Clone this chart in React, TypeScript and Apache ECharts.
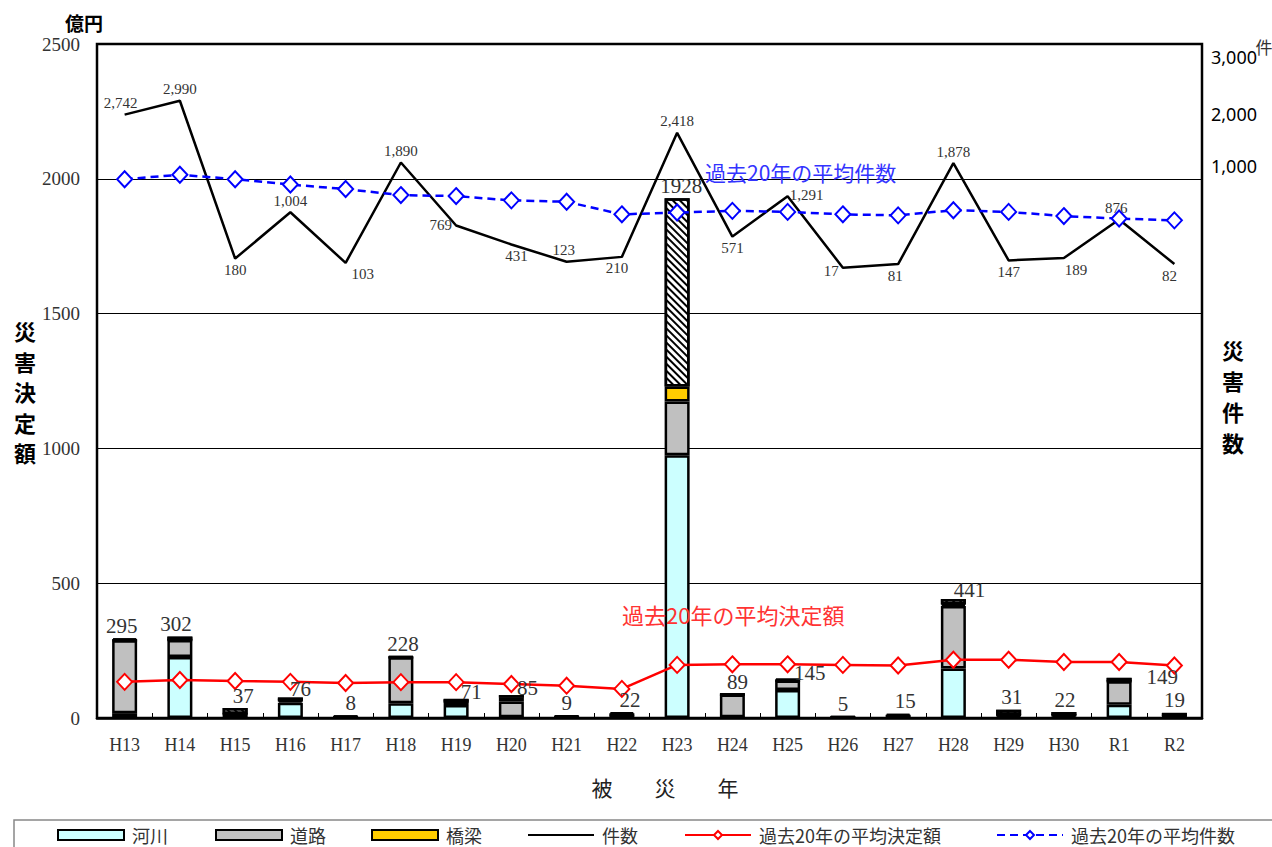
import React, { useEffect, useRef } from 'react';
import * as echarts from 'echarts';

// ---- data ----
const categories = ['H13', 'H14', 'H15', 'H16', 'H17', 'H18', 'H19', 'H20', 'H21', 'H22', 'H23', 'H24', 'H25', 'H26', 'H27', 'H28', 'H29', 'H30', 'R1', 'R2'];
const riverValues = [18, 226, 3, 57, 1, 55, 48, 3, 2, 10, 975, 3, 104, 1, 3, 184, 8, 2, 49, 2];
const roadValues = [270, 63, 12, 8, 2, 170, 13, 58, 2, 3, 199, 84, 35, 1, 4, 231, 3, 8, 87, 5];
const bridgeValues = [0, 0, 0, 0, 0, 0, 0, 14, 0, 0, 56, 0, 0, 0, 0, 6, 0, 0, 0, 0];
const otherValues = [7, 13, 22, 11, 5, 3, 10, 10, 5, 9, 698, 2, 6, 3, 8, 20, 20, 12, 13, 12];
const totalValues = [295, 302, 37, 76, 8, 228, 71, 85, 9, 22, 1928, 89, 145, 5, 15, 441, 31, 22, 149, 19];
const countValues = [2742, 2990, 180, 1004, 103, 1890, 769, 431, 123, 210, 2418, 571, 1291, 17, 81, 1878, 147, 189, 876, 82];
const avgAmountValues = [134, 141, 137, 134, 130, 133, 133, 126, 120, 108, 197, 199, 199, 197, 195, 216, 216, 208, 208, 195];
const avgCountValues = [1592, 1673, 1592, 1497, 1417, 1310, 1292, 1216, 1191, 967, 999, 1029, 1011, 967, 949, 1041, 1011, 936, 892, 860];
const leftTickMin = 0;
const leftTickMax = 2500;
const leftTickInterval = 500;
const rightTickLabels = ['3,000', '2,000', '1,000'];

// ---- styling / placement (not data) ----
const totalLabelOffsets: number[][] = [
  [-3, 0], [-4, 0], [8, 0], [10, 4], [5, 0], [2, 0], [15, 6], [16, 5], [0, 0], [8, 0],
  [4, 0], [5, 0], [22, 7], [0, 0], [7, 0], [16, 3], [3, 0], [1, 0], [43, 12], [0, 0],
];
const countLabelPos = ['top', 'top', 'bottom', 'top', 'bottom', 'top', 'left', 'bottom', 'top', 'bottom',
  'top', 'bottom', 'top', 'left', 'bottom', 'top', 'bottom', 'bottom', 'top', 'bottom'];
const countLabelOffsets: number[][] = [
  [-4, 0], [0, 0], [0, 0], [0, 0], [17, 0], [0, 0], [0, 0], [5, 0], [-3, 0], [-5, 0],
  [0, 0], [0, 0], [19, 10], [0, 3], [-3, 0], [0, 0], [0, 0], [12, 0], [-3, 0], [-5, 0],
];
const rightTickY = [57, 114, 166];

const SERIF = 'Liberation Serif';
const CJK = 'Noto Sans CJK JP';

export default function App() {
  const ref = useRef<HTMLDivElement>(null);

  useEffect(() => {
    document.body.style.margin = '0';
    const chart = echarts.init(ref.current as HTMLDivElement, null, { renderer: 'svg' });

    const barBase = {
      type: 'bar',
      stack: 'total',
      barWidth: 25,
      yAxisIndex: 0,
      xAxisIndex: 0,
      z: 2,
    };
    const border = { borderColor: '#000', borderWidth: 2.5 };

    const legendCommon = {
      top: 826,
      padding: 0,
      itemWidth: 66,
      itemHeight: 10,
      selectedMode: false,
      textStyle: { fontFamily: CJK, fontSize: 18, color: '#333', padding: [0, 0, 0, 3] },
    };

    const graphicText = (text: string, x: number, y: number, opts: any) => ({
      type: 'text',
      x,
      y,
      z: 100,
      silent: true,
      style: {
        text,
        fill: opts.fill || '#000',
        fontSize: opts.fontSize || 18,
        fontFamily: opts.fontFamily || CJK,
        fontWeight: opts.fontWeight || 'normal',
        lineHeight: opts.lineHeight,
        textAlign: opts.align || 'center',
        textVerticalAlign: 'middle',
        align: opts.align || 'center',
        verticalAlign: 'middle',
      },
    });

    const option: any = {
      animation: false,
      backgroundColor: '#fff',
      grid: {
        left: 97,
        right: 70,
        top: 44,
        bottom: 129,
        show: true,
        borderColor: '#000',
        borderWidth: 2.5,
        backgroundColor: 'transparent',
        containLabel: false,
      },
      xAxis: {
        type: 'category',
        data: categories,
        axisLine: { show: true, lineStyle: { color: '#000', width: 2.5 } },
        axisTick: { show: true, inside: true, length: 5, lineStyle: { color: '#000', width: 1 } },
        axisLabel: { fontFamily: SERIF, fontSize: 18, color: '#333', margin: 18 },
      },
      yAxis: [
        {
          type: 'value',
          min: leftTickMin,
          max: leftTickMax,
          interval: leftTickInterval,
          axisLine: { show: false },
          axisTick: { show: false },
          axisLabel: {
            fontFamily: SERIF,
            fontSize: 19,
            color: '#333',
            margin: 17,
            formatter: (v: number) => String(v),
          },
          splitLine: { show: true, lineStyle: { color: '#000', width: 1 } },
        },
        {
          type: 'value',
          min: -8000,
          max: 4000,
          interval: 1000,
          show: false,
          splitLine: { show: false },
        },
      ],
      legend: [
        { ...legendCommon, left: 57, data: [{ name: '河川', icon: 'rect' }] },
        { ...legendCommon, left: 215, data: [{ name: '道路', icon: 'rect' }] },
        { ...legendCommon, left: 371, data: [{ name: '橋梁', icon: 'rect' }] },
        { ...legendCommon, left: 527, data: [{ name: '件数', itemStyle: { opacity: 0 } }] },
        { ...legendCommon, left: 684, data: [{ name: '過去20年の平均決定額' }] },
        { ...legendCommon, left: 996, data: [{ name: '過去20年の平均件数' }] },
      ],
      series: [
        {
          ...barBase,
          name: '河川',
          data: riverValues,
          itemStyle: { color: '#CCFFFF', ...border },
        },
        {
          ...barBase,
          name: '道路',
          data: roadValues,
          itemStyle: { color: '#C0C0C0', ...border },
        },
        {
          ...barBase,
          name: '橋梁',
          data: bridgeValues,
          itemStyle: { color: '#FFCC00', ...border },
        },
        {
          ...barBase,
          name: 'その他',
          data: otherValues,
          itemStyle: {
            color: '#fff',
            ...border,
            decal: {
              symbol: 'rect',
              symbolSize: 1,
              color: '#000',
              backgroundColor: '#fff',
              dashArrayX: [1, 0],
              dashArrayY: [1.5, 2.5],
              rotation: Math.PI / 4,
            },
          },
        },
        {
          type: 'bar',
          name: '合計',
          yAxisIndex: 0,
          barWidth: 25,
          barGap: '-100%',
          z: 10,
          silent: true,
          data: totalValues.map((v, i) => ({
            value: v,
            label: { offset: totalLabelOffsets[i] },
          })),
          itemStyle: { color: 'rgba(0,0,0,0)', borderWidth: 0 },
          label: {
            show: true,
            position: 'top',
            distance: 2,
            fontFamily: SERIF,
            fontSize: 21,
            color: '#333',
          },
        },
        {
          type: 'line',
          name: '件数',
          yAxisIndex: 1,
          z: 5,
          data: countValues.map((v, i) => ({
            value: v,
            label: { position: countLabelPos[i], offset: countLabelOffsets[i] },
          })),
          symbol: 'circle',
          symbolSize: 0.1,
          showSymbol: true,
          lineStyle: { color: '#000', width: 2.5 },
          itemStyle: { color: '#000' },
          label: {
            show: true,
            distance: 4,
            fontFamily: SERIF,
            fontSize: 15,
            color: '#333',
            formatter: (p: any) => Number(p.value).toLocaleString('en-US'),
          },
        },
        {
          type: 'line',
          name: '過去20年の平均決定額',
          yAxisIndex: 0,
          z: 6,
          data: avgAmountValues,
          symbol: 'diamond',
          symbolSize: [15, 16],
          lineStyle: { color: '#FF0000', width: 2.5 },
          itemStyle: { color: '#fff', borderColor: '#FF0000', borderWidth: 2 },
        },
        {
          type: 'line',
          name: '過去20年の平均件数',
          yAxisIndex: 1,
          z: 6,
          data: avgCountValues,
          symbol: 'diamond',
          symbolSize: [15, 16],
          lineStyle: { color: '#0000FF', width: 2.5, type: [8, 5] },
          itemStyle: { color: '#fff', borderColor: '#0000FF', borderWidth: 2 },
        },
      ],
      graphic: [
        {
          type: 'rect',
          silent: true,
          shape: { x: 14, y: 820, width: 1300, height: 60 },
          style: { fill: 'none', stroke: '#888', lineWidth: 1.5 },
        },
        graphicText('億円', 84, 22, { fontSize: 19, fontWeight: 'bold' }),
        graphicText('災\n害\n決\n定\n額', 25, 391, { fontSize: 22, fontWeight: 'bold', lineHeight: 30.5 }),
        graphicText('災\n害\n件\n数', 1233, 395, { fontSize: 22, fontWeight: 'bold', lineHeight: 31 }),
        ...rightTickLabels.map((t, i) =>
          graphicText(t, 1211, rightTickY[i], { fontSize: 18, fontFamily: 'Noto Sans', align: 'left' })
        ),
        graphicText('件', 1264, 46, { fontSize: 17, fontFamily: CJK, fill: '#333' }),
        graphicText('被　　災　　年', 665, 787, { fontSize: 21, fontFamily: CJK, fill: '#222' }),
        graphicText('過去20年の平均件数', 705, 172, { fontSize: 21, fill: '#3333FF', align: 'left' }),
        graphicText('過去20年の平均決定額', 622, 614, { fontSize: 22, fill: '#FF3333', align: 'left' }),
      ],
    };

    chart.setOption(option);
    return () => chart.dispose();
  }, []);

  return <div ref={ref} style={{ width: 1272, height: 847 }} />;
}
